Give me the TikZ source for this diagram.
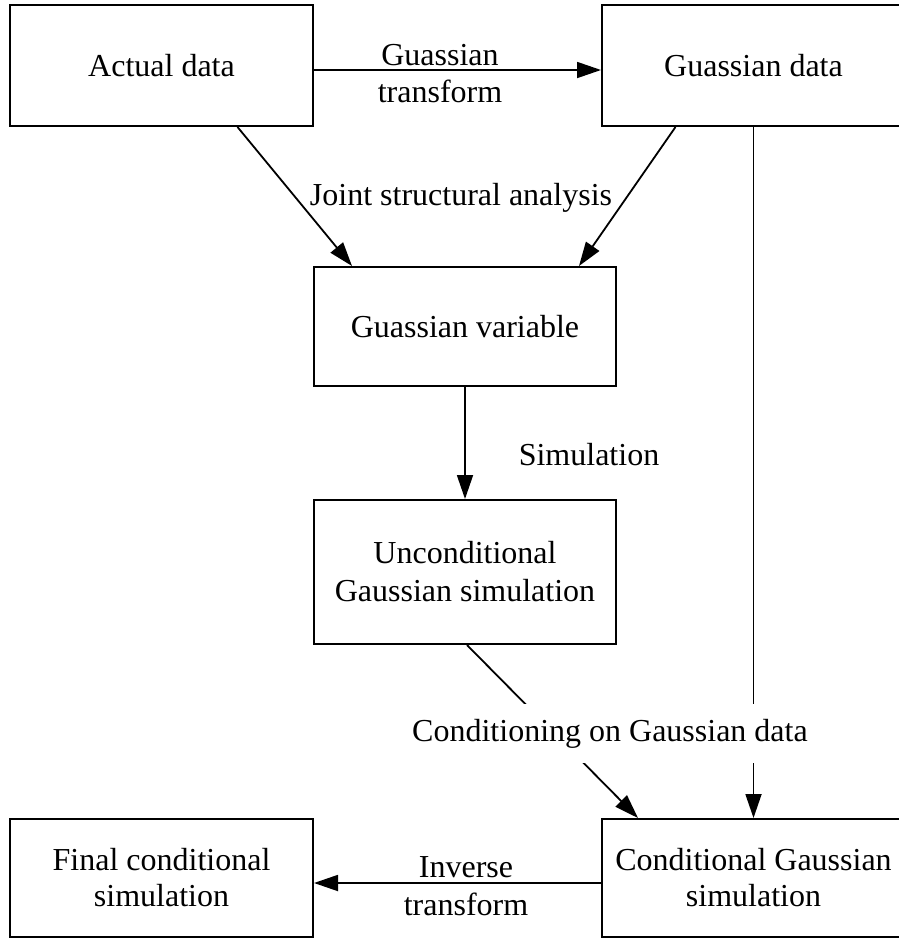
\documentclass[tikz,border=0pt]{standalone}
\usepackage{fontspec}
\setmainfont{Liberation Serif}
\usetikzlibrary{arrows.meta}
\begin{document}
\begin{tikzpicture}[x=1pt,y=-1pt,
  box/.style={draw,line width=2pt,minimum width=303pt,inner sep=0pt,align=center,font=\fontsize{32}{36}\selectfont},
  conn/.style={line width=1.8pt,-{Triangle[length=24pt,width=16pt]}},
  lbl/.style={font=\fontsize{32}{36}\selectfont,anchor=base,inner sep=0pt}]
\useasboundingbox (0,0) rectangle (899,940);
\clip (0,0) rectangle (899,940);
\node[box,minimum height=121pt] (actual) at (161.5,65.5) {Actual data};
\node[box,minimum height=121pt] (gdata) at (753.5,65.5) {Guassian data};
\node[box,minimum width=302pt,minimum height=119pt] (gvar) at (465,326.5) {Guassian variable};
\node[box,minimum width=302pt,minimum height=144pt,font=\fontsize{32}{38}\selectfont] (uncond) at (465,572) {Unconditional\\Gaussian simulation};
\node[box,minimum height=118pt] (final) at (161.5,878) {Final conditional\\simulation};
\node[box,minimum height=118pt] (cond) at (753.5,878) {Conditional Gaussian\\simulation};

\draw[conn] ([yshift=-4.5pt]actual.east) -- ([yshift=-4.5pt]gdata.west);
\draw[conn] ([xshift=76pt]actual.south) -- ([xshift=-113pt]gvar.north);
\draw[conn] ([xshift=-78pt]gdata.south) -- ([xshift=114pt]gvar.north);
\draw[conn] (gdata.south) -- (cond.north);
\draw[conn] (gvar.south) -- (uncond.north);
\draw[conn] ([xshift=2pt]uncond.south) -- ([xshift=-115.5pt]cond.north);
\draw[conn] ([yshift=-5pt]cond.west) -- ([yshift=-5pt]final.east);

\node[lbl] (gt1) at (440,65) {Guassian};
\node[lbl] (gt2) at (440,102) {transform};
\node[lbl] (jsa) at (461,205) {Joint structural analysis};
\node[lbl] (sim) at (589,465) {Simulation};
\node[lbl,fill=white,inner xsep=2pt,inner ysep=15pt] (condlbl) at (610,741) {Conditioning on Gaussian data};
\node[lbl] (inv1) at (466,877) {Inverse};
\node[lbl] (inv2) at (466,915) {transform};
\end{tikzpicture}
\end{document}
